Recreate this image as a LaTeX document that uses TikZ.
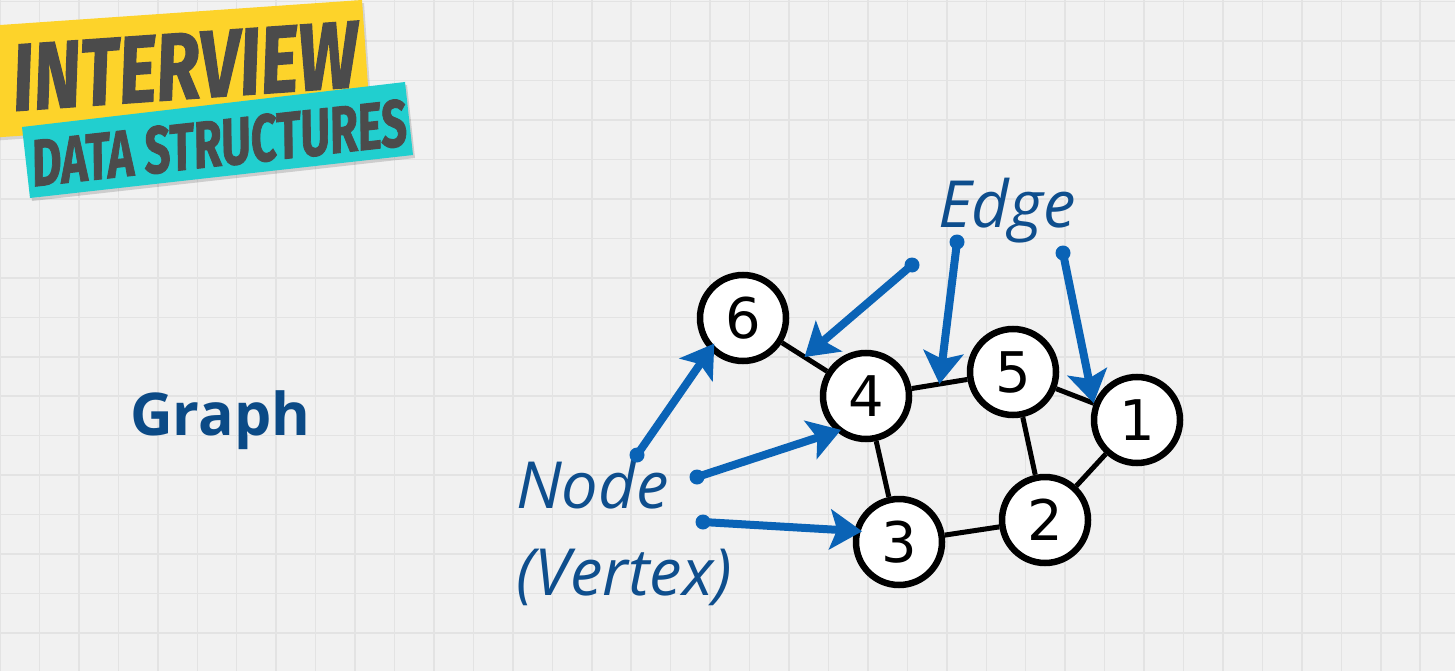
\documentclass[tikz,border=0pt]{standalone}
\usepackage{fontspec}
\usetikzlibrary{arrows.meta,calc}
\newfontfamily\labelfont{Open Sans}
\newfontfamily\digitfont{DejaVu Sans}
\newfontfamily\bannerfont{Fira Sans}[BoldItalicFeatures={FakeBold=1.5}]
\definecolor{gridbg}{HTML}{F1F1F1}
\definecolor{gridline}{HTML}{E3E3E3}
\definecolor{titleblue}{HTML}{0B4A86}
\definecolor{labelblue}{HTML}{0E4E8D}
\definecolor{arrowblue}{HTML}{0A63B6}
\definecolor{banneryellow}{HTML}{FDD32A}
\definecolor{bannerteal}{HTML}{21CFCF}
\definecolor{bannertext}{HTML}{4B4B4B}
\tikzset{
  vertex/.style={circle,draw=black,fill=white,line width=6.5pt,minimum size=86pt,inner sep=0pt,
    font=\digitfont\fontsize{56}{56}\selectfont},
  link/.style={line width=5pt,black},
  pointer/.style={arrowblue,line width=8pt,line cap=round,->},
  caption/.style={anchor=base west,inner sep=0pt,text=labelblue,font=\labelfont\itshape\fontsize{65}{65}\selectfont}
}
\begin{document}
\begin{tikzpicture}[x=1pt,y=-1pt,>={Stealth[length=32pt,width=40pt,inset=7pt]}]
\useasboundingbox (0,0) rectangle (1455,671);
% paper grid
\fill[gridbg] (0,0) rectangle (1455,671);
\foreach \k in {0,...,36}
  \draw[gridline,line width=1.5pt] ({\k*39.45},0) -- ({\k*39.45},671);
\foreach \k in {0,...,17}
  \draw[gridline,line width=1.5pt] (0,{1.7+\k*39.45}) -- (1455,{1.7+\k*39.45});
% banner
\fill[black,opacity=0.12] (-18,29.4) -- (364,3) -- (371.8,114.7) -- (-10.2,141) -- cycle;
\fill[banneryellow] (-20,26.4) -- (362,0) -- (369.8,111.7) -- (-12.2,138) -- cycle;
\fill[black,opacity=0.15] (24,130) -- (407,85) -- (415,158) -- (32,201) -- cycle;
\fill[bannerteal] (22,127) -- (405,82) -- (413,155) -- (30,198) -- cycle;
\node[rotate=4,text=bannertext,inner sep=0pt,font=\bannerfont\bfseries\itshape\fontsize{95}{95}\selectfont]
  (bannertop) at (185,66) {\scalebox{0.76}[1]{INTERVIEW}};
\node[rotate=6.3,text=bannertext,inner sep=0pt,font=\bannerfont\bfseries\itshape\fontsize{66}{66}\selectfont]
  (bannerbottom) at (219,143) {\scalebox{0.70}[1]{DATA STRUCTURES}};
% labels
\node[anchor=base west,inner sep=0pt,text=titleblue,font=\labelfont\bfseries\fontsize{59}{59}\selectfont]
  (title) at (130,435) {Graph};
\node[caption] (edgelbl) at (938,227) {Edge};
\node[caption] (nodelbl) at (516,508) {Node};
\node[caption] (vertexlbl) at (516,595) {(Vertex)};
% graph
\node[vertex] (n6) at (743,318) {6};
\node[vertex] (n4) at (866,396) {4};
\node[vertex] (n5) at (1013,372) {5};
\node[vertex] (n1) at (1137,420) {1};
\node[vertex] (n2) at (1045,520) {2};
\node[vertex] (n3) at (899,542) {3};
\draw[link] (n6) -- (n4);
\draw[link] (n4) -- (n5);
\draw[link] (n5) -- (n1);
\draw[link] (n5) -- (n2);
\draw[link] (n1) -- (n2);
\draw[link] (n4) -- (n3);
\draw[link] (n3) -- (n2);
% pointers
\coordinate (toN6) at (637,455);
\coordinate (toN4) at (697,477);
\coordinate (toN3) at (703,522);
\coordinate (toE64) at (912,265);
\coordinate (toE45) at (957,242);
\coordinate (toE51) at (1063,253);
\foreach \c in {toN6,toN4,toN3,toE64,toE45,toE51}
  \fill[arrowblue] (\c) circle[radius=7.5];
\draw[pointer,shorten >=-8pt] (toN6) -- (n6.224);
\draw[pointer,shorten >=-5pt] (toN4) -- (n4.230);
\draw[pointer,shorten >=-8pt] (toN3) -- (n3.166);
\draw[pointer] (toE64) -- ($(n6)!0.5!(n4)$);
\draw[pointer] (toE45) -- ($(n4)!0.5!(n5)$);
\draw[pointer] (toE51) -- ($(n5)!0.65!(n1)$);
\end{tikzpicture}
\end{document}
